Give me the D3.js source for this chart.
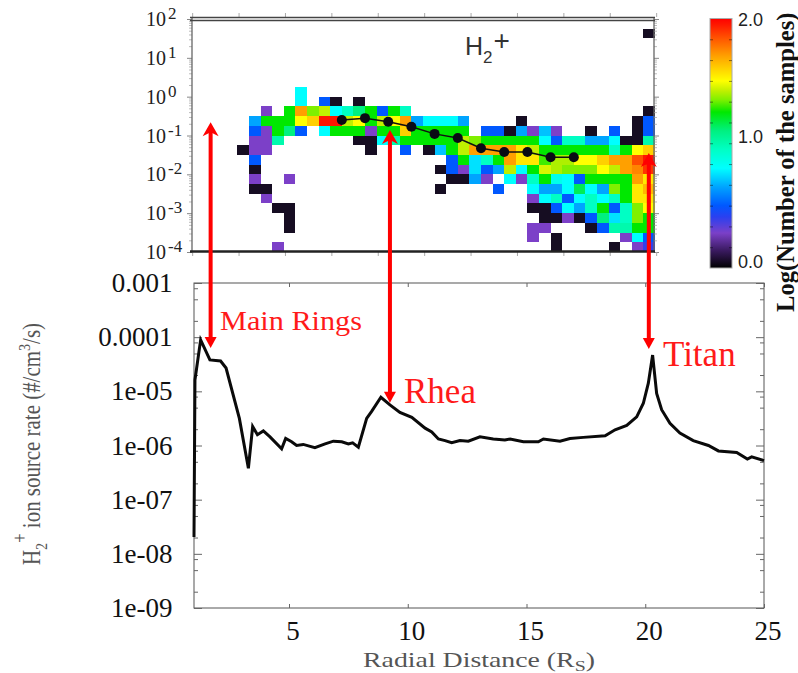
<!DOCTYPE html>
<html>
<head>
<meta charset="utf-8">
<title>H2+ ion source rate</title>
<script src="https://d3js.org/d3.v7.min.js"></script>
<style>
  html, body { margin: 0; padding: 0; background: #fff; }
  svg { display: block; }
  text { font-family: "Liberation Serif", serif; }
</style>
</head>
<body>
<div id="my_dataviz"></div>
<script>
// lower panel, radial distance (Rs) and log10 of the source rate
var radialDistance = [1, 1.04, 1.28, 1.67, 2.12, 2.35, 2.91, 3.29, 3.47, 3.67, 3.92, 4.2, 4.69, 4.86, 5.11, 5.32, 5.6, 6.09, 6.52, 6.87,
    7.22, 7.5, 7.68, 7.92, 8.27, 8.48, 8.87, 9.25, 9.67, 10.17, 10.73, 11.01, 11.29, 11.57, 11.85, 12.2, 12.55, 13.04, 13.6, 14.09,
    14.31, 14.87, 15.5, 15.71, 16.41, 16.83, 17.39, 18.31, 18.73, 19.22, 19.64, 19.92, 20.13, 20.31, 20.48, 20.69, 21.04, 21.46, 22.02, 22.66,
    23.08, 23.85, 24.3, 24.48, 25];
var sourceRateLog = [-7.69, -4.79, -4.05, -4.42, -4.44, -4.57, -5.5, -6.42, -5.65, -5.8, -5.73, -5.84, -6.06, -5.87, -5.93, -6, -5.98, -6.04, -5.97, -5.92,
    -5.93, -5.97, -5.95, -6.03, -5.5, -5.37, -5.11, -5.25, -5.39, -5.48, -5.68, -5.75, -5.88, -5.91, -5.95, -5.91, -5.92, -5.84, -5.88, -5.9,
    -5.88, -5.93, -5.93, -5.88, -5.92, -5.87, -5.85, -5.82, -5.71, -5.63, -5.47, -5.22, -4.85, -4.33, -5.04, -5.34, -5.59, -5.77, -5.91, -6,
    -6.1, -6.13, -6.25, -6.21, -6.28];

// upper panel medians
var medianBins = [6.5, 7.5, 8.5, 9.5, 10.5, 11.5, 12.5, 13.5, 14.5, 15.5, 16.5];
var medianValues = [0.25, 0.28, 0.226, 0.168, 0.11, 0.086, 0.047, 0.0376, 0.0376, 0.0275, 0.0275];

// upper panel histogram: [row from bottom, first column, log(samples) per column]
var histogramRuns = [
    [22, 39, [0.05]],
    [16, 9, [0.8]],
    [15, 9, [0.8, null, 0.5, 0.05, null, 0.05]],
    [14, 6, [0.28, null, 1.25, 1.7, 1.35, 1.42, 0.8, 0.95, 1.1, 1.25, 0.5, 1.25, 0.95]],
    [14, 39, [0.05]],
    [13, 5, [0.65, 1.25, 1.25, 1.25, 1.5, 1.6, 1.95, 1.95, 1.42, 1.5, 1.25, 1.42, 1.5, 1.7, 0.65, 0.8, 0.8, 0.8, 0.65]],
    [13, 28, [0.05]],
    [13, 38, [0.05, 0.5]],
    [12, 5, [0.5, 0.28, 1.25, 1.1, 0.5, null, 0.8, 1.25, 1.25, 1.25, 0.28, 1.25, 1.25, 1.6, 1.25, 1.25, 1.25, 1.25, 1.25, null,
        0.5, 0.5, 0.05, 0.65, 0.28, 0.7, 0.28, null, null, 0.05, null, 0.5, null, 0.05, 0.5]],
    [11, 5, [0.28, 0.28, 1]],
    [11, 14, [0.05, 0.05, 0.8, 1, 1.25, 1.25, 1.25, 1.25, 1.25, 1.42, 1.35, 1.25, 1.25, 1.25, 1.25, 1.25, 0.8, 0.5, 0.95, 0.95, 0.65, 0.65, 0.8, 0.05, 0.05, 1]],
    [10, 4, [0.05, 0.28, 0.28]],
    [10, 15, [0.05, null, null, 0.5, null, 0.05, 0.7, 1.25, 1.42, 1.7, 1.7, 1.7, 1.7, 1.55, 1.42, 1.25, 1.25, 1.25, 1.25, 1.25, 1.25, 0.95, 1.25, 1.5, 1.6]],
    [9, 5, [0.5]],
    [9, 22, [0.5, 1.25, 0.75, 0.95, 1.25, 1.7, 1.55, 1.55, 1.3, 1.4, 1.4, 1.5, 1.5, 1.6, 1.7, 1.7, 1.85, 1.95]],
    [8, 5, [0.05]],
    [8, 21, [0.05, 0.5, 0.28, 0.75, 0.5, 0.65, 1.42, 0.8, 1.25, 1.45, 1.4, 1.35, 1.35, 1.35, 1.5, 1.42, 1.7, 1.75, 1.9]],
    [7, 5, [0.28, null, null, 0.28]],
    [7, 22, [0.05, 0.05, 0.65, 0.28, null, 0.8, 0.28, 0.95, 1.25, 0.85, 0.8, 0.5, 1.25, 1.25, 1.25, 1.25, 1.7, 1.55]],
    [6, 5, [0.05, 0.05]],
    [6, 21, [0.05]],
    [6, 26, [0.5, null, null, 0.8, 0.65, 0.65, 0.8, 1.15, 0.8, 0.65, 1.35, 1.25, 1.55, 1.65]],
    [5, 6, [0.28]],
    [5, 29, [0.28, 0.8, 0.95, 0.5, 0.8, 0.95, 0.8, 0.95, 1.25, 1.55, 1.55]],
    [4, 7, [0.05, 0.05]],
    [4, 29, [0.05, 0.05, 0.5, 0.8, 0.65, 0.95, 1.25, 0.5, 0.95, 1.35, 1.5]],
    [3, 8, [0.05]],
    [3, 30, [0.05, 0.05, 0.28, 0.05, 0.5, 1.1, 0.75, 0.95, 1.35, 1.25]],
    [2, 8, [0.05]],
    [2, 29, [0.28, 0.28, null, null, null, 0.05, 0.5, 1, 1, 1.25, 1.25]],
    [1, 29, [0.28, null, 0.05]],
    [1, 37, [0.28, 0.8, 0.5]],
    [0, 7, [0.28]],
    [0, 31, [0.05]],
    [0, 36, [0.05, null, 0.28, 0.4]]
];

// colour table of the bar
var colorStops = [0, 0.14, 0.28, 0.41, 0.5, 0.65, 0.8, 0.95, 1.1, 1.25, 1.35, 1.42, 1.5, 1.6, 1.7, 1.85, 1.95, 2];
var colorValues = ["#000000", "#3a1a60", "#7b40c8", "#2a40f0", "#0058ff", "#00a4ff", "#00ffff", "#00ffc4", "#00f080", "#00e800",
    "#80f000", "#c0f000", "#ffff00", "#ffd000", "#ffa000", "#ff5000", "#ff1800", "#ff0000"];

// arrows
var arrowDistance = [1.7, 9.25, 20.15];
var arrowTopValue = [0.22, 0.138, 0.0355];
var arrowBottomRate = [-4.2, -5.21, -4.22];

var topTickExponents = [2, 1, 0, -1, -2, -3, -4];
var rateTickLabels = ["0.001", "0.0001", "1e-05", "1e-06", "1e-07", "1e-08", "1e-09"];
var rateTickValues = [1e-3, 1e-4, 1e-5, 1e-6, 1e-7, 1e-8, 1e-9];
var distanceTicks = [5, 10, 15, 20, 25];
var colorbarLabels = [2, 1, 0];

var svg = d3.select("#my_dataviz").append("svg")
    .attr("width", 798)
    .attr("height", 673);

var xTop = d3.scaleLinear().domain([0, 20]).range([191, 655]);
var yTop = d3.scaleLog().domain([1e-4, 1e2]).range([252, 19]);
var xLow = d3.scaleLinear().domain([1, 25]).range([194, 764]);
var yLow = d3.scaleLog().domain([1e-9, 1e-3]).range([608, 283]);
var color = d3.scaleLinear().domain(colorStops).range(colorValues).clamp(true);
var yBar = d3.scaleLinear().domain([0, 2]).range([268, 18.5]);

function minorTicks(first, last, steps) {
    var out = [];
    for (var e = first; e < last; e++) {
        steps.forEach(function (s) {
            out.push(s * Math.pow(10, e));
        });
    }
    return out;
}

function styleAxis(g, stroke) {
    g.selectAll("line").attr("stroke", stroke);
    g.select(".domain").remove();
}

var defs = svg.append("defs");
// the histogram is soft in the original
defs.append("filter")
    .attr("id", "soft")
    .append("feGaussianBlur")
    .attr("stdDeviation", 0.6);

// ---- upper panel ----
var cells = [];
histogramRuns.forEach(function (run) {
    run[2].forEach(function (v, i) {
        if (v !== null) {
            cells.push({ row: run[0], col: run[1] + i, value: v });
        }
    });
});

svg.append("g")
    .attr("filter", "url(#soft)")
    .selectAll("rect")
    .data(cells)
    .enter()
    .append("rect")
    .attr("x", function (d) { return Math.round(xTop(d.col * 0.5)); })
    .attr("y", function (d) { return Math.round(yTop(Math.pow(10, -4 + (d.row + 1) * 0.25))); })
    .attr("width", function (d) { return Math.round(xTop((d.col + 1) * 0.5)) - Math.round(xTop(d.col * 0.5)); })
    .attr("height", function (d) {
        return Math.round(yTop(Math.pow(10, -4 + d.row * 0.25))) - Math.round(yTop(Math.pow(10, -4 + (d.row + 1) * 0.25)));
    })
    .attr("fill", function (d) { return color(d.value); });

var topMinor = minorTicks(-4, 2, [2, 3, 4, 5, 6, 7, 8, 9]);
var topMajor = topTickExponents.map(function (e) { return Math.pow(10, e); });

[d3.axisLeft(yTop).tickSize(3), d3.axisRight(yTop).tickSize(3)].forEach(function (axis, i) {
    var g = svg.append("g")
        .attr("transform", "translate(" + (i == 0 ? 192 : 654) + ",0)")
        .call(axis.tickValues(topMinor).tickFormat(""));
    styleAxis(g, "#bbb");
    var g2 = svg.append("g")
        .attr("transform", "translate(" + (i == 0 ? 192 : 654) + ",0)")
        .call((i == 0 ? d3.axisLeft(yTop) : d3.axisRight(yTop)).tickSize(5).tickValues(topMajor).tickFormat(""));
    styleAxis(g2, "#888");
});

[[d3.axisTop(xTop), 17], [d3.axisBottom(xTop), 252]].forEach(function (a) {
    var g = svg.append("g")
        .attr("transform", "translate(0," + a[1] + ")")
        .call(a[0].tickValues(d3.range(0.05, 20.1, 2)).tickSize(4).tickFormat(""));
    styleAxis(g, "#aaa");
});

// frame of the upper panel
svg.append("line").attr("x1", 192).attr("x2", 192).attr("y1", 18).attr("y2", 252).attr("stroke", "#666").attr("stroke-width", 1.3);
svg.append("line").attr("x1", 654).attr("x2", 654).attr("y1", 18).attr("y2", 252).attr("stroke", "#666").attr("stroke-width", 1.3);
svg.append("line").attr("x1", 190).attr("x2", 655).attr("y1", 17.5).attr("y2", 17.5).attr("stroke", "#444").attr("stroke-width", 1.4);
svg.append("line").attr("x1", 190).attr("x2", 655).attr("y1", 20.5).attr("y2", 20.5).attr("stroke", "#444").attr("stroke-width", 1.4);
svg.append("line").attr("x1", 190).attr("x2", 655).attr("y1", 251.5).attr("y2", 251.5).attr("stroke", "#222").attr("stroke-width", 2.4);

var topLabels = svg.append("g").selectAll("text")
    .data(topTickExponents)
    .enter()
    .append("text")
    .attr("x", 146)
    .attr("y", function (d) { return yTop(Math.pow(10, d)) + 7; })
    .attr("font-size", 20)
    .attr("fill", "#222");
topLabels.append("tspan").text("10");
topLabels.append("tspan")
    .attr("x", 168)
    .attr("dy", -7)
    .attr("font-size", 17)
    .text(function (d) { return d; });

// median line
var medianLine = d3.line()
    .x(function (d, i) { return xTop(medianBins[i]); })
    .y(function (d) { return yTop(d); });
svg.append("path")
    .attr("d", medianLine(medianValues))
    .attr("fill", "none")
    .attr("stroke", "#111")
    .attr("stroke-width", 1.5);
svg.append("g").selectAll("circle")
    .data(medianValues)
    .enter()
    .append("circle")
    .attr("cx", function (d, i) { return xTop(medianBins[i]); })
    .attr("cy", function (d) { return yTop(d); })
    .attr("r", 5)
    .attr("fill", "#0a0a14");

// H2+ title
var ionTitle = svg.append("text")
    .attr("x", 465)
    .attr("y", 55)
    .attr("font-size", 25)
    .attr("fill", "#333")
    .style("font-family", "'Liberation Sans', sans-serif");
ionTitle.append("tspan").text("H");
ionTitle.append("tspan").attr("dy", 8).attr("font-size", 17).text("2");
ionTitle.append("tspan").attr("dy", -13).attr("dx", 1).attr("font-size", 28).text("+");

// ---- colour bar ----
var gradient = defs.append("linearGradient")
    .attr("id", "barGradient")
    .attr("x1", 0).attr("x2", 0).attr("y1", 1).attr("y2", 0);
gradient.selectAll("stop")
    .data(colorStops)
    .enter()
    .append("stop")
    .attr("offset", function (d) { return d / 2; })
    .attr("stop-color", function (d) { return color(d); });

svg.append("rect")
    .attr("x", 710)
    .attr("y", yBar(2))
    .attr("width", 22)
    .attr("height", yBar(0) - yBar(2))
    .attr("fill", "url(#barGradient)")
    .attr("stroke", "#aaa")
    .attr("stroke-width", 1);

var barTicks = d3.range(1, 12).map(function (i) { return i / 6; });
var barAxisL = svg.append("g").attr("transform", "translate(710,0)")
    .call(d3.axisRight(yBar).tickValues(barTicks).tickSize(3).tickFormat(""));
var barAxisR = svg.append("g").attr("transform", "translate(732,0)")
    .call(d3.axisLeft(yBar).tickValues(barTicks).tickSize(3).tickFormat(""));
styleAxis(barAxisL, "rgba(0,0,0,0.45)");
styleAxis(barAxisR, "rgba(0,0,0,0.45)");

svg.append("g").selectAll("text")
    .data(colorbarLabels)
    .enter()
    .append("text")
    .attr("x", 738)
    .attr("y", function (d) { return yBar(d) + (d == 2 ? 7.5 : 0); })
    .attr("font-size", 18)
    .attr("fill", "#222")
    .style("font-family", "'Liberation Sans', sans-serif")
    .text(function (d) { return d3.format(".1f")(d); });

svg.append("text")
    .attr("transform", "translate(794,312) rotate(-90)")
    .attr("font-size", 24.6)
    .attr("font-weight", "bold")
    .attr("fill", "#111")
    .text("Log(Number of the samples)");

// ---- lower panel ----
svg.append("rect")
    .attr("x", xLow(1))
    .attr("y", yLow(1e-3))
    .attr("width", xLow(25) - xLow(1))
    .attr("height", yLow(1e-9) - yLow(1e-3))
    .attr("fill", "none")
    .attr("stroke", "#555")
    .attr("stroke-width", 1);

var lowMinor = minorTicks(-9, -3, [2, 5, 8]);
[[d3.axisRight(yLow), 194], [d3.axisLeft(yLow), 764]].forEach(function (a) {
    var g = svg.append("g")
        .attr("transform", "translate(" + a[1] + ",0)")
        .call(a[0].tickValues(lowMinor).tickSize(4).tickFormat(""));
    styleAxis(g, "#666");
});

var makeMajor = [d3.axisRight(yLow), d3.axisLeft(yLow)];
makeMajor.forEach(function (axis, i) {
    var g = svg.append("g")
        .attr("transform", "translate(" + (i == 0 ? 194 : 764) + ",0)")
        .call(axis.tickValues(rateTickValues).tickSize(8).tickFormat(""));
    styleAxis(g, "#666");
});

[[d3.axisBottom(xLow), 283], [d3.axisTop(xLow), 608]].forEach(function (a) {
    var g = svg.append("g")
        .attr("transform", "translate(0," + a[1] + ")")
        .call(a[0].tickValues(distanceTicks).tickSize(4).tickFormat(""));
    styleAxis(g, "#666");
});

svg.append("g").selectAll("text")
    .data(rateTickValues)
    .enter()
    .append("text")
    .attr("x", 172.5)
    .attr("y", function (d) { return yLow(d) + 9; })
    .attr("text-anchor", "end")
    .attr("font-size", 27)
    .attr("fill", "#111")
    .text(function (d, i) { return rateTickLabels[i]; });

svg.append("g").selectAll("text")
    .data(distanceTicks)
    .enter()
    .append("text")
    .attr("x", function (d) { return xLow(d) + 4; })
    .attr("y", 640)
    .attr("text-anchor", "middle")
    .attr("font-size", 27)
    .attr("fill", "#111")
    .text(function (d) { return d; });

var xLabel = svg.append("text")
    .attr("x", 363)
    .attr("y", 667)
    .attr("font-size", 21)
    .attr("fill", "#555")
    .attr("textLength", 232)
    .attr("lengthAdjust", "spacingAndGlyphs");
xLabel.append("tspan").text("Radial Distance (R");
xLabel.append("tspan").attr("dy", 4).attr("font-size", 15).text("S");
xLabel.append("tspan").attr("dy", -4).text(")");

var yLabel = svg.append("text")
    .attr("transform", "translate(40,565) rotate(-90)")
    .attr("font-size", 25)
    .attr("fill", "#555")
    .attr("textLength", 242)
    .attr("lengthAdjust", "spacingAndGlyphs");
yLabel.append("tspan").text("H");
yLabel.append("tspan").attr("dy", 7).attr("font-size", 17).text("2");
yLabel.append("tspan").attr("dy", -20).attr("font-size", 20).text("+");
yLabel.append("tspan").attr("dy", 13).text(" ion source rate (#/cm");
yLabel.append("tspan").attr("dy", -10).attr("font-size", 17).text("3");
yLabel.append("tspan").attr("dy", 10).text("/s)");

var rateLine = d3.line()
    .x(function (d, i) { return xLow(radialDistance[i]); })
    .y(function (d) { return yLow(Math.pow(10, d)); });
svg.append("path")
    .attr("d", rateLine(sourceRateLog))
    .attr("fill", "none")
    .attr("stroke", "#0a0a0a")
    .attr("stroke-width", 3)
    .attr("stroke-linejoin", "miter");

// ---- red arrows ----
var arrows = svg.append("g");
arrowDistance.forEach(function (dist, i) {
    var x = xLow(dist);
    var yTip = yTop(arrowTopValue[i]);
    var yEnd = yLow(Math.pow(10, arrowBottomRate[i]));
    arrows.append("line")
        .attr("x1", x).attr("x2", x)
        .attr("y1", yTip + 8).attr("y2", yEnd - 8)
        .attr("stroke", "#ff0000")
        .attr("stroke-width", 4);
    arrows.append("path")
        .attr("d", "M" + x + "," + yTip + "L" + (x + 8) + "," + (yTip + 14) + "L" + x + "," + (yTip + 10) + "L" + (x - 8) + "," + (yTip + 14) + "Z")
        .attr("fill", "#ff0000");
    arrows.append("path")
        .attr("d", "M" + x + "," + yEnd + "L" + (x + 6) + "," + (yEnd - 11) + "L" + (x - 6) + "," + (yEnd - 11) + "Z")
        .attr("fill", "#ff0000");
});

svg.append("text").attr("x", 220).attr("y", 330).attr("font-size", 28).attr("fill", "#ff1a1a")
    .attr("textLength", 142).attr("lengthAdjust", "spacingAndGlyphs").text("Main Rings");
svg.append("text").attr("x", 404).attr("y", 403).attr("font-size", 35).attr("fill", "#ff1a1a").text("Rhea");
svg.append("text").attr("x", 663).attr("y", 366).attr("font-size", 35).attr("fill", "#ff1a1a").text("Titan");
</script>
</body>
</html>
